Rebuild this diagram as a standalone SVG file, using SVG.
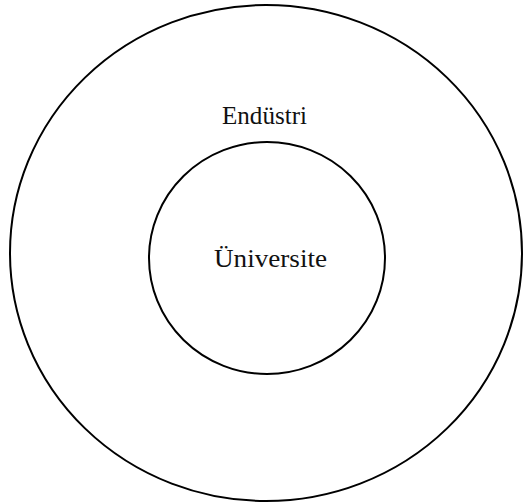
<svg xmlns="http://www.w3.org/2000/svg" width="523" height="504" viewBox="0 0 523 504">
<style>
.ring{fill:none;stroke:#000;stroke-width:2}
.lbl{font-family:"Liberation Serif","Times New Roman",serif;font-size:25px;fill:#111}
</style>
<rect width="523" height="504" fill="#fff"/>
<g id="endustri">
<ellipse class="ring" cx="266" cy="253" rx="256" ry="248"/>
<text class="lbl" x="222" y="124" textLength="85" lengthAdjust="spacingAndGlyphs">Endüstri</text>
</g>
<g id="universite">
<ellipse class="ring" cx="267" cy="258" rx="118" ry="116"/>
<text class="lbl" x="214" y="267" textLength="113" lengthAdjust="spacingAndGlyphs">Üniversite</text>
</g>
<g id="connectors"></g>
</svg>
